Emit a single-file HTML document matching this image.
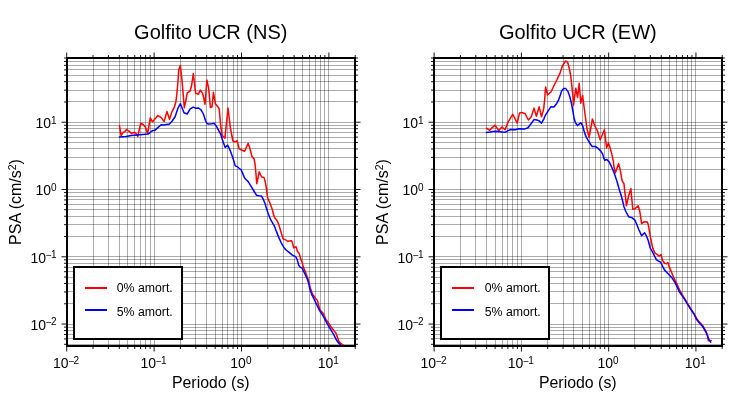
<!DOCTYPE html>
<html><head><meta charset="utf-8"><style>
html,body{margin:0;padding:0;background:#fff;}
svg{display:block;}
text{font-family:"Liberation Sans", Arial, Helvetica, sans-serif;fill:#000;}
</style></head><body>
<svg width="730" height="400" viewBox="0 0 730 400">
<rect width="730" height="400" fill="#fff"/>
<path d="M93.5 58.0V346.0M108.5 58.0V346.0M119.5 58.0V346.0M127.5 58.0V346.0M134.5 58.0V346.0M140.5 58.0V346.0M145.5 58.0V346.0M150.5 58.0V346.0M154.5 58.0V346.0M180.5 58.0V346.0M195.5 58.0V346.0M206.5 58.0V346.0M215.5 58.0V346.0M222.5 58.0V346.0M227.5 58.0V346.0M233.5 58.0V346.0M237.5 58.0V346.0M241.5 58.0V346.0M267.5 58.0V346.0M283.5 58.0V346.0M294.5 58.0V346.0M302.5 58.0V346.0M309.5 58.0V346.0M315.5 58.0V346.0M320.5 58.0V346.0M324.5 58.0V346.0M328.5 58.0V346.0" stroke="#000" stroke-opacity="0.33" stroke-width="1" fill="none"/>
<path d="M67.0 344.5H355.0M67.0 338.5H355.0M67.0 334.5H355.0M67.0 330.5H355.0M67.0 327.5H355.0M67.0 324.5H355.0M67.0 303.5H355.0M67.0 291.5H355.0M67.0 283.5H355.0M67.0 277.5H355.0M67.0 271.5H355.0M67.0 267.5H355.0M67.0 263.5H355.0M67.0 259.5H355.0M67.0 256.5H355.0M67.0 236.5H355.0M67.0 224.5H355.0M67.0 216.5H355.0M67.0 209.5H355.0M67.0 204.5H355.0M67.0 199.5H355.0M67.0 196.5H355.0M67.0 192.5H355.0M67.0 189.5H355.0M67.0 169.5H355.0M67.0 157.5H355.0M67.0 148.5H355.0M67.0 142.5H355.0M67.0 137.5H355.0M67.0 132.5H355.0M67.0 128.5H355.0M67.0 125.5H355.0M67.0 122.5H355.0M67.0 101.5H355.0M67.0 90.5H355.0M67.0 81.5H355.0M67.0 75.5H355.0M67.0 69.5H355.0M67.0 65.5H355.0M67.0 61.5H355.0" stroke="#000" stroke-opacity="0.33" stroke-width="1" fill="none"/>
<path d="M66.73 347.0v4.5M66.73 57.0v-4.5M93.03 347.0v2M93.03 57.0v-2M108.42 347.0v2M108.42 57.0v-2M119.34 347.0v2M119.34 57.0v-2M127.81 347.0v2M127.81 57.0v-2M134.73 347.0v2M134.73 57.0v-2M140.58 347.0v2M140.58 57.0v-2M145.64 347.0v2M145.64 57.0v-2M150.11 347.0v2M150.11 57.0v-2M154.11 347.0v4.5M154.11 57.0v-4.5M180.42 347.0v2M180.42 57.0v-2M195.81 347.0v2M195.81 57.0v-2M206.73 347.0v2M206.73 57.0v-2M215.19 347.0v2M215.19 57.0v-2M222.11 347.0v2M222.11 57.0v-2M227.96 347.0v2M227.96 57.0v-2M233.03 347.0v2M233.03 57.0v-2M237.50 347.0v2M237.50 57.0v-2M241.50 347.0v4.5M241.50 57.0v-4.5M267.81 347.0v2M267.81 57.0v-2M283.19 347.0v2M283.19 57.0v-2M294.11 347.0v2M294.11 57.0v-2M302.58 347.0v2M302.58 57.0v-2M309.50 347.0v2M309.50 57.0v-2M315.35 347.0v2M315.35 57.0v-2M320.42 347.0v2M320.42 57.0v-2M324.89 347.0v2M324.89 57.0v-2M328.89 347.0v4.5M328.89 57.0v-4.5M355.19 347.0v2M355.19 57.0v-2M66.0 344.30h-2M356.0 344.30h2M66.0 338.98h-2M356.0 338.98h2M66.0 334.47h-2M356.0 334.47h2M66.0 330.57h-2M356.0 330.57h2M66.0 327.13h-2M356.0 327.13h2M66.0 324.05h-4.5M356.0 324.05h4.5M66.0 303.80h-2M356.0 303.80h2M66.0 291.95h-2M356.0 291.95h2M66.0 283.54h-2M356.0 283.54h2M66.0 277.02h-2M356.0 277.02h2M66.0 271.70h-2M356.0 271.70h2M66.0 267.19h-2M356.0 267.19h2M66.0 263.29h-2M356.0 263.29h2M66.0 259.85h-2M356.0 259.85h2M66.0 256.77h-4.5M356.0 256.77h4.5M66.0 236.52h-2M356.0 236.52h2M66.0 224.67h-2M356.0 224.67h2M66.0 216.26h-2M356.0 216.26h2M66.0 209.74h-2M356.0 209.74h2M66.0 204.42h-2M356.0 204.42h2M66.0 199.91h-2M356.0 199.91h2M66.0 196.01h-2M356.0 196.01h2M66.0 192.57h-2M356.0 192.57h2M66.0 189.49h-4.5M356.0 189.49h4.5M66.0 169.24h-2M356.0 169.24h2M66.0 157.39h-2M356.0 157.39h2M66.0 148.98h-2M356.0 148.98h2M66.0 142.46h-2M356.0 142.46h2M66.0 137.14h-2M356.0 137.14h2M66.0 132.63h-2M356.0 132.63h2M66.0 128.73h-2M356.0 128.73h2M66.0 125.29h-2M356.0 125.29h2M66.0 122.21h-4.5M356.0 122.21h4.5M66.0 101.96h-2M356.0 101.96h2M66.0 90.11h-2M356.0 90.11h2M66.0 81.70h-2M356.0 81.70h2M66.0 75.18h-2M356.0 75.18h2M66.0 69.86h-2M356.0 69.86h2M66.0 65.35h-2M356.0 65.35h2M66.0 61.45h-2M356.0 61.45h2M66.0 58.01h-2M356.0 58.01h2" stroke="#000" stroke-opacity="0.92" stroke-width="1.0" fill="none"/>
<path d="M119.4 125.4 L121.1 135.6 L123.0 132.3 L124.5 131.9 L126.6 129.5 L129.0 131.1 L131.4 133.5 L134.4 132.3 L136.2 133.8 L137.7 136.5 L140.7 123.3 L142.8 124.2 L145.2 126.6 L147.6 133.5 L150.3 117.9 L152.4 122.0 L157.8 115.6 L161.1 117.4 L164.1 121.6 L167.0 111.5 L169.5 119.3 L172.0 111.6 L174.4 107.2 L176.0 101.2 L176.8 94.4 L177.6 86.0 L178.8 69.6 L180.4 65.6 L182.0 80.0 L183.2 94.4 L184.3 107.8 L186.0 100.0 L187.2 92.8 L190.2 91.0 L191.7 85.0 L193.3 73.5 L194.3 82.0 L195.6 93.1 L198.3 94.3 L200.4 90.1 L202.7 93.6 L204.4 101.0 L205.0 104.3 L206.9 80.1 L208.6 87.8 L210.4 107.5 L212.1 106.8 L213.4 92.3 L215.4 103.8 L218.4 107.4 L219.3 109.2 L220.5 123.8 L222.0 135.2 L224.9 138.2 L228.0 108.0 L230.4 128.0 L232.9 141.0 L235.0 141.9 L237.1 140.7 L239.2 148.8 L241.6 150.0 L244.6 151.2 L248.2 143.4 L250.0 148.8 L252.0 156.6 L254.1 159.0 L255.0 163.8 L255.6 169.8 L256.8 183.7 L258.0 178.0 L259.2 171.7 L260.7 175.0 L261.9 177.1 L264.0 177.4 L265.2 181.6 L266.4 188.2 L266.8 192.0 L267.7 198.0 L269.8 202.8 L272.3 209.6 L274.0 216.2 L274.9 218.0 L277.3 221.0 L278.8 224.6 L280.6 230.8 L282.1 235.6 L283.0 238.9 L285.1 239.5 L287.8 241.3 L291.4 240.7 L292.3 242.2 L293.8 247.9 L296.0 246.7 L297.5 251.5 L299.3 253.6 L300.5 258.4 L302.3 262.6 L303.2 266.8 L305.3 271.6 L307.1 276.4 L308.6 280.6 L310.3 288.0 L312.4 294.0 L315.1 297.6 L317.5 300.6 L318.7 305.4 L319.8 309.8 L322.2 312.2 L323.7 314.0 L325.8 319.4 L328.2 322.4 L331.0 326.8 L334.6 331.6 L336.1 333.4 L337.3 337.0 L338.8 341.2 L340.6 343.3 L343.6 345.4" stroke="#f00" stroke-width="1.5" fill="none" stroke-linejoin="round" stroke-linecap="round"/>
<path d="M119.4 136.9 L126.0 136.5 L131.4 135.5 L137.4 134.9 L142.8 134.5 L148.2 134.1 L150.3 132.2 L152.7 130.6 L154.5 130.6 L157.8 127.6 L161.1 124.7 L163.8 125.1 L166.5 124.6 L169.5 124.0 L172.2 121.0 L175.2 116.5 L178.0 108.0 L180.4 103.7 L182.4 108.8 L184.0 112.8 L187.2 114.0 L190.2 108.9 L193.2 107.1 L195.9 108.3 L198.6 108.0 L201.0 109.8 L203.4 114.0 L205.5 120.5 L207.0 123.5 L208.8 124.1 L211.8 123.7 L213.9 123.2 L215.7 125.0 L218.4 129.8 L220.8 134.6 L222.4 139.8 L225.1 147.3 L227.8 145.2 L230.2 150.6 L232.2 156.0 L234.0 161.4 L235.2 165.9 L237.0 166.5 L238.8 168.0 L241.2 169.8 L241.8 171.4 L244.5 177.7 L246.0 179.5 L248.4 181.9 L250.8 185.8 L253.6 190.5 L256.6 195.3 L259.0 195.7 L261.4 195.9 L263.2 199.2 L265.0 203.4 L266.8 209.6 L268.3 213.8 L270.4 219.2 L272.8 223.4 L274.6 226.4 L276.4 231.4 L278.8 237.4 L281.2 242.8 L283.6 247.0 L284.3 247.9 L286.1 250.0 L288.8 252.1 L292.4 255.1 L295.7 256.6 L297.2 259.6 L298.7 265.3 L300.2 267.1 L302.0 268.0 L303.8 271.6 L305.9 275.8 L307.4 279.4 L308.9 284.2 L309.7 288.6 L311.8 294.6 L314.2 299.4 L317.7 306.8 L320.4 311.9 L323.4 316.4 L325.8 321.2 L328.6 326.2 L331.6 331.0 L334.0 335.2 L336.4 340.0 L338.8 343.3 L340.8 345.3" stroke="#00f" stroke-width="1.5" fill="none" stroke-linejoin="round" stroke-linecap="round"/>
<rect x="67.0" y="58.0" width="288.0" height="288.0" fill="none" stroke="#000" stroke-width="2"/>
<rect x="74" y="267" width="108" height="72" fill="#fff" stroke="#000" stroke-width="2"/>
<path d="M85 288H107" stroke="#f00" stroke-width="2"/>
<path d="M85 310H107" stroke="#00f" stroke-width="2"/>
<text x="116.7" y="291.7" font-size="12.3">0% amort.</text>
<text x="116.7" y="315.5" font-size="12.3">5% amort.</text>
<text x="66.13" y="368.2" font-size="14" text-anchor="middle">10<tspan font-size="10.0" dx="0.0" dy="-3.7">−</tspan><tspan font-size="10.0" dx="-0.9" dy="-0.8">2</tspan></text>
<text x="153.51" y="368.2" font-size="14" text-anchor="middle">10<tspan font-size="10.0" dx="0.0" dy="-3.7">−</tspan><tspan font-size="10.0" dx="-0.9" dy="-0.8">1</tspan></text>
<text x="240.90" y="368.2" font-size="14" text-anchor="middle">10<tspan font-size="10.0" dx="0.0" dy="-4.5">0</tspan></text>
<text x="328.29" y="368.2" font-size="14" text-anchor="middle">10<tspan font-size="10.0" dx="0.0" dy="-4.5">1</tspan></text>
<text x="56.6" y="329.95" font-size="14" text-anchor="end">10<tspan font-size="10.0" dx="0.0" dy="-3.7">−</tspan><tspan font-size="10.0" dx="-0.9" dy="-0.8">2</tspan></text>
<text x="56.6" y="262.67" font-size="14" text-anchor="end">10<tspan font-size="10.0" dx="0.0" dy="-3.7">−</tspan><tspan font-size="10.0" dx="-0.9" dy="-0.8">1</tspan></text>
<text x="56.6" y="195.39" font-size="14" text-anchor="end">10<tspan font-size="10.0" dx="0.0" dy="-4.5">0</tspan></text>
<text x="56.6" y="128.11" font-size="14" text-anchor="end">10<tspan font-size="10.0" dx="0.0" dy="-4.5">1</tspan></text>
<text x="210.80" y="38.7" font-size="20" text-anchor="middle">Golfito UCR (NS)</text>
<text x="210.80" y="388.1" font-size="15.9" text-anchor="middle">Periodo (s)</text>
<text transform="translate(21 202) rotate(-90)" font-size="16" text-anchor="middle">PSA (cm/s<tspan font-size="10.5" dy="-5.5">2</tspan><tspan dy="5.5">)</tspan></text>
<path d="M460.5 58.0V346.0M475.5 58.0V346.0M486.5 58.0V346.0M495.5 58.0V346.0M502.5 58.0V346.0M507.5 58.0V346.0M512.5 58.0V346.0M517.5 58.0V346.0M521.5 58.0V346.0M547.5 58.0V346.0M563.5 58.0V346.0M573.5 58.0V346.0M582.5 58.0V346.0M589.5 58.0V346.0M595.5 58.0V346.0M600.5 58.0V346.0M604.5 58.0V346.0M608.5 58.0V346.0M634.5 58.0V346.0M650.5 58.0V346.0M661.5 58.0V346.0M669.5 58.0V346.0M676.5 58.0V346.0M682.5 58.0V346.0M687.5 58.0V346.0M691.5 58.0V346.0M695.5 58.0V346.0" stroke="#000" stroke-opacity="0.33" stroke-width="1" fill="none"/>
<path d="M434.0 344.5H722.0M434.0 338.5H722.0M434.0 334.5H722.0M434.0 330.5H722.0M434.0 327.5H722.0M434.0 324.5H722.0M434.0 303.5H722.0M434.0 291.5H722.0M434.0 283.5H722.0M434.0 277.5H722.0M434.0 271.5H722.0M434.0 267.5H722.0M434.0 263.5H722.0M434.0 259.5H722.0M434.0 256.5H722.0M434.0 236.5H722.0M434.0 224.5H722.0M434.0 216.5H722.0M434.0 209.5H722.0M434.0 204.5H722.0M434.0 199.5H722.0M434.0 196.5H722.0M434.0 192.5H722.0M434.0 189.5H722.0M434.0 169.5H722.0M434.0 157.5H722.0M434.0 148.5H722.0M434.0 142.5H722.0M434.0 137.5H722.0M434.0 132.5H722.0M434.0 128.5H722.0M434.0 125.5H722.0M434.0 122.5H722.0M434.0 101.5H722.0M434.0 90.5H722.0M434.0 81.5H722.0M434.0 75.5H722.0M434.0 69.5H722.0M434.0 65.5H722.0M434.0 61.5H722.0" stroke="#000" stroke-opacity="0.33" stroke-width="1" fill="none"/>
<path d="M434.14 347.0v4.5M434.14 57.0v-4.5M460.41 347.0v2M460.41 57.0v-2M475.78 347.0v2M475.78 57.0v-2M486.68 347.0v2M486.68 57.0v-2M495.14 347.0v2M495.14 57.0v-2M502.05 347.0v2M502.05 57.0v-2M507.89 347.0v2M507.89 57.0v-2M512.95 347.0v2M512.95 57.0v-2M517.42 347.0v2M517.42 57.0v-2M521.41 347.0v4.5M521.41 57.0v-4.5M547.68 347.0v2M547.68 57.0v-2M563.05 347.0v2M563.05 57.0v-2M573.95 347.0v2M573.95 57.0v-2M582.41 347.0v2M582.41 57.0v-2M589.32 347.0v2M589.32 57.0v-2M595.16 347.0v2M595.16 57.0v-2M600.22 347.0v2M600.22 57.0v-2M604.69 347.0v2M604.69 57.0v-2M608.68 347.0v4.5M608.68 57.0v-4.5M634.95 347.0v2M634.95 57.0v-2M650.32 347.0v2M650.32 57.0v-2M661.22 347.0v2M661.22 57.0v-2M669.68 347.0v2M669.68 57.0v-2M676.59 347.0v2M676.59 57.0v-2M682.43 347.0v2M682.43 57.0v-2M687.49 347.0v2M687.49 57.0v-2M691.95 347.0v2M691.95 57.0v-2M695.95 347.0v4.5M695.95 57.0v-4.5M722.22 347.0v2M722.22 57.0v-2M433.0 344.30h-2M723.0 344.30h2M433.0 338.98h-2M723.0 338.98h2M433.0 334.47h-2M723.0 334.47h2M433.0 330.57h-2M723.0 330.57h2M433.0 327.13h-2M723.0 327.13h2M433.0 324.05h-4.5M723.0 324.05h4.5M433.0 303.80h-2M723.0 303.80h2M433.0 291.95h-2M723.0 291.95h2M433.0 283.54h-2M723.0 283.54h2M433.0 277.02h-2M723.0 277.02h2M433.0 271.70h-2M723.0 271.70h2M433.0 267.19h-2M723.0 267.19h2M433.0 263.29h-2M723.0 263.29h2M433.0 259.85h-2M723.0 259.85h2M433.0 256.77h-4.5M723.0 256.77h4.5M433.0 236.52h-2M723.0 236.52h2M433.0 224.67h-2M723.0 224.67h2M433.0 216.26h-2M723.0 216.26h2M433.0 209.74h-2M723.0 209.74h2M433.0 204.42h-2M723.0 204.42h2M433.0 199.91h-2M723.0 199.91h2M433.0 196.01h-2M723.0 196.01h2M433.0 192.57h-2M723.0 192.57h2M433.0 189.49h-4.5M723.0 189.49h4.5M433.0 169.24h-2M723.0 169.24h2M433.0 157.39h-2M723.0 157.39h2M433.0 148.98h-2M723.0 148.98h2M433.0 142.46h-2M723.0 142.46h2M433.0 137.14h-2M723.0 137.14h2M433.0 132.63h-2M723.0 132.63h2M433.0 128.73h-2M723.0 128.73h2M433.0 125.29h-2M723.0 125.29h2M433.0 122.21h-4.5M723.0 122.21h4.5M433.0 101.96h-2M723.0 101.96h2M433.0 90.11h-2M723.0 90.11h2M433.0 81.70h-2M723.0 81.70h2M433.0 75.18h-2M723.0 75.18h2M433.0 69.86h-2M723.0 69.86h2M433.0 65.35h-2M723.0 65.35h2M433.0 61.45h-2M723.0 61.45h2M433.0 58.01h-2M723.0 58.01h2" stroke="#000" stroke-opacity="0.92" stroke-width="1.0" fill="none"/>
<path d="M486.4 128.2 L489.7 130.3 L491.8 127.9 L495.1 125.2 L498.7 130.6 L502.0 127.0 L505.0 129.7 L508.0 122.2 L512.8 114.4 L517.2 123.2 L519.6 112.9 L521.4 112.6 L525.0 113.5 L528.4 120.0 L531.3 116.8 L534.0 108.1 L536.4 116.2 L539.2 106.8 L541.5 116.8 L543.7 108.8 L544.6 100.5 L545.6 87.0 L547.6 95.0 L551.1 91.7 L553.8 86.0 L557.1 79.5 L560.2 72.6 L562.6 65.6 L565.6 61.0 L567.7 62.3 L569.2 68.0 L570.7 75.5 L571.6 84.0 L572.8 95.2 L573.5 105.2 L575.8 88.2 L577.6 97.6 L579.2 83.2 L580.8 103.2 L582.6 95.4 L584.2 108.0 L585.4 117.0 L587.0 129.0 L589.1 137.4 L591.2 126.0 L592.4 119.0 L594.8 126.0 L597.2 130.2 L600.2 139.8 L604.4 129.8 L606.6 148.0 L608.4 142.7 L610.2 148.2 L611.7 153.6 L613.5 162.0 L613.8 165.8 L615.3 173.0 L618.6 163.6 L620.4 170.6 L621.6 178.5 L622.5 181.5 L624.0 183.7 L624.6 190.0 L625.5 197.2 L626.4 205.8 L628.6 196.0 L630.9 188.5 L631.5 196.0 L632.8 209.3 L635.2 208.6 L638.2 205.8 L639.7 211.0 L640.6 216.5 L641.6 223.6 L644.3 221.7 L647.3 222.0 L648.5 225.6 L649.7 232.8 L650.5 237.5 L651.4 242.0 L652.9 248.6 L655.0 253.1 L657.1 254.3 L659.2 256.1 L661.0 254.5 L662.5 260.2 L664.6 263.2 L666.4 263.8 L667.9 262.6 L669.1 266.2 L671.2 271.6 L673.6 277.4 L675.0 280.2 L677.4 285.0 L679.5 289.8 L682.2 294.6 L685.0 299.2 L687.9 304.2 L691.2 309.3 L694.2 313.8 L696.8 318.8 L699.9 322.6 L702.9 325.8 L705.0 329.5 L706.3 332.0 L707.5 335.5 L708.4 340.8 L711.2 340.6" stroke="#f00" stroke-width="1.5" fill="none" stroke-linejoin="round" stroke-linecap="round"/>
<path d="M486.4 132.4 L490.0 132.1 L494.8 131.3 L499.0 131.5 L502.0 132.1 L505.0 132.3 L508.0 130.6 L511.0 129.5 L515.2 129.8 L519.0 128.7 L525.0 128.9 L528.0 127.7 L531.0 123.8 L534.0 119.6 L537.0 120.0 L539.2 120.9 L541.5 123.2 L543.8 119.2 L545.2 115.6 L547.9 111.4 L550.9 106.7 L553.9 107.0 L556.0 104.6 L558.4 100.4 L560.2 95.6 L561.6 91.0 L563.7 88.4 L565.8 88.6 L568.0 91.6 L569.9 97.0 L571.6 104.0 L572.4 108.5 L573.3 113.5 L574.1 118.5 L575.4 122.5 L577.4 125.6 L580.7 122.7 L582.5 125.3 L584.0 130.8 L585.8 136.2 L587.9 139.8 L590.1 143.5 L592.2 146.6 L595.2 146.4 L597.9 148.2 L600.6 150.9 L602.7 154.2 L603.9 158.4 L604.9 160.4 L606.6 159.4 L609.0 161.6 L611.1 165.8 L613.2 170.6 L615.0 175.4 L617.2 182.0 L619.2 189.4 L621.0 194.8 L622.5 200.5 L623.8 206.2 L625.6 211.0 L628.6 216.7 L631.8 217.6 L634.7 219.9 L636.5 223.8 L638.9 229.8 L641.6 235.7 L644.6 232.8 L646.7 236.4 L648.4 241.0 L650.2 248.0 L652.6 252.2 L654.6 256.2 L656.5 259.9 L660.7 262.3 L662.5 266.2 L664.6 270.1 L666.7 272.2 L670.0 275.8 L672.3 278.3 L675.0 282.6 L677.1 286.8 L679.2 291.6 L682.2 295.8 L684.7 299.6 L687.6 304.4 L690.9 309.5 L693.9 314.0 L696.6 319.6 L699.6 323.2 L702.6 326.5 L704.7 329.8 L706.8 334.0 L708.6 339.0 L710.7 342.2" stroke="#00f" stroke-width="1.5" fill="none" stroke-linejoin="round" stroke-linecap="round"/>
<rect x="434.0" y="58.0" width="288.0" height="288.0" fill="none" stroke="#000" stroke-width="2"/>
<rect x="441" y="267" width="108" height="72" fill="#fff" stroke="#000" stroke-width="2"/>
<path d="M452 288H474" stroke="#f00" stroke-width="2"/>
<path d="M452 310H474" stroke="#00f" stroke-width="2"/>
<text x="484.7" y="291.7" font-size="12.3">0% amort.</text>
<text x="484.7" y="315.5" font-size="12.3">5% amort.</text>
<text x="433.54" y="368.2" font-size="14" text-anchor="middle">10<tspan font-size="10.0" dx="0.0" dy="-3.7">−</tspan><tspan font-size="10.0" dx="-0.9" dy="-0.8">2</tspan></text>
<text x="520.81" y="368.2" font-size="14" text-anchor="middle">10<tspan font-size="10.0" dx="0.0" dy="-3.7">−</tspan><tspan font-size="10.0" dx="-0.9" dy="-0.8">1</tspan></text>
<text x="608.08" y="368.2" font-size="14" text-anchor="middle">10<tspan font-size="10.0" dx="0.0" dy="-4.5">0</tspan></text>
<text x="695.35" y="368.2" font-size="14" text-anchor="middle">10<tspan font-size="10.0" dx="0.0" dy="-4.5">1</tspan></text>
<text x="423.6" y="329.95" font-size="14" text-anchor="end">10<tspan font-size="10.0" dx="0.0" dy="-3.7">−</tspan><tspan font-size="10.0" dx="-0.9" dy="-0.8">2</tspan></text>
<text x="423.6" y="262.67" font-size="14" text-anchor="end">10<tspan font-size="10.0" dx="0.0" dy="-3.7">−</tspan><tspan font-size="10.0" dx="-0.9" dy="-0.8">1</tspan></text>
<text x="423.6" y="195.39" font-size="14" text-anchor="end">10<tspan font-size="10.0" dx="0.0" dy="-4.5">0</tspan></text>
<text x="423.6" y="128.11" font-size="14" text-anchor="end">10<tspan font-size="10.0" dx="0.0" dy="-4.5">1</tspan></text>
<text x="577.80" y="38.7" font-size="20" text-anchor="middle">Golfito UCR (EW)</text>
<text x="577.80" y="388.1" font-size="15.9" text-anchor="middle">Periodo (s)</text>
<text transform="translate(388 202) rotate(-90)" font-size="16" text-anchor="middle">PSA (cm/s<tspan font-size="10.5" dy="-5.5">2</tspan><tspan dy="5.5">)</tspan></text>
</svg>
</body></html>
